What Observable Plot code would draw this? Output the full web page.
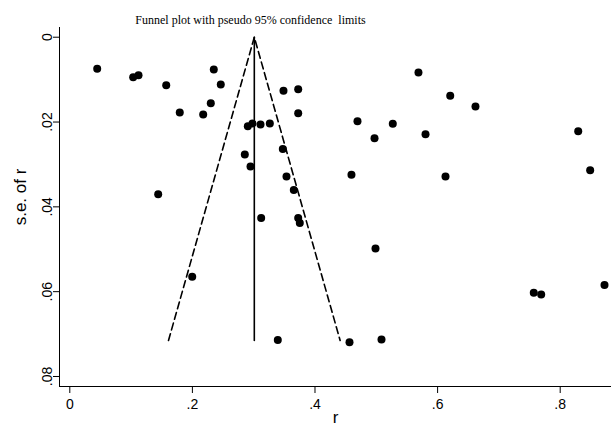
<!DOCTYPE html>
<html>
<head>
<meta charset="utf-8">
<script src="https://cdn.jsdelivr.net/npm/d3@7"></script>
<script src="https://cdn.jsdelivr.net/npm/@observablehq/plot@0.6"></script>
<style>
  html, body { margin: 0; padding: 0; background: #fff; }
  #chart svg { display: block; }
</style>
</head>
<body>
<div id="chart"></div>
<script>
// effect size r of each study
const rValues = [
  0.0447, 0.1034, 0.1121, 0.2349, 0.1573, 0.2463, 0.3486, 0.3726, 0.2300, 0.1794,
  0.2176, 0.3726, 0.2904, 0.2980, 0.3111, 0.3263, 0.2855, 0.3475, 0.2948, 0.3535,
  0.3654, 0.1442, 0.5688, 0.6206, 0.6618, 0.4693, 0.5269, 0.4971, 0.5803, 0.8294,
  0.8489, 0.4595, 0.6129, 0.3122, 0.3726, 0.3752, 0.1997, 0.3393, 0.4987, 0.7569,
  0.7690, 0.8723, 0.4563, 0.5085
];
// standard error of r of each study
const seValues = [
  0.00746, 0.00943, 0.00896, 0.00762, 0.01132, 0.01116, 0.01265, 0.01226, 0.01557, 0.01776,
  0.01823, 0.01792, 0.02099, 0.02035, 0.02059, 0.02035, 0.02767, 0.02633, 0.03050, 0.03285,
  0.03600, 0.03703, 0.00833, 0.01383, 0.01634, 0.01980, 0.02043, 0.02382, 0.02288, 0.02217,
  0.03137, 0.03246, 0.03285, 0.04260, 0.04260, 0.04378, 0.05650, 0.07137, 0.04983, 0.06028,
  0.06068, 0.05840, 0.07193, 0.07130
];
// pooled estimate line and pseudo 95% confidence limits (funnel)
const pooledR = [0.301, 0.301];
const pooledSe = [0, 0.0715];
const funnelR = [0.161, 0.301, 0.441];
const funnelSe = [0.0715, 0, 0.0715];

const xTicks = [0, 0.2, 0.4, 0.6, 0.8];
const yTicks = [0, 0.02, 0.04, 0.06, 0.08];
const titleText = "Funnel plot with pseudo 95% confidence  limits";
const xLabel = "r";
const yLabel = "s.e. of r";

const points = rValues.map((r, i) => ({r, se: seValues[i]}));
const pooled = pooledR.map((r, i) => ({r, se: pooledSe[i]}));
const funnel = funnelR.map((r, i) => ({r, se: funnelSe[i]}));

const fmt = d => d === 0 ? "0" : d3.format(".2~f")(d).replace(/^0\./, ".");

const xDomain = [-0.0168, 0.8837];
const yDomain = [-0.00229, 0.08236];

const chart = Plot.plot({
  width: 611,
  height: 427,
  marginLeft: 59,
  marginRight: 0,
  marginTop: 27,
  marginBottom: 41,
  style: {fontFamily: "'Liberation Sans', Arial, sans-serif", background: "#fff", color: "#000"},
  x: {domain: xDomain},
  y: {domain: yDomain, reverse: true},
  marks: [
    Plot.ruleX([xDomain[0]], {stroke: "#000", strokeWidth: 1}),
    Plot.ruleY([yDomain[1]], {stroke: "#000", strokeWidth: 1}),
    Plot.axisX({ticks: xTicks, tickSize: 7, tickPadding: 6, tickFormat: fmt, fontSize: 14, label: null, stroke: "#000"}),
    Plot.axisY({ticks: yTicks, tickSize: 6, tickFormat: () => "", label: null, stroke: "#000"}),
    Plot.text(yTicks, {y: d => d, frameAnchor: "left", dx: -12, rotate: -90, text: fmt, fontSize: 14, textAnchor: "middle", lineAnchor: "middle", fill: "#000"}),
    Plot.text([yLabel], {frameAnchor: "left", dx: -39, dy: -10, rotate: -90, text: d => d, fontSize: 17, textAnchor: "middle", lineAnchor: "middle", fill: "#000"}),
    Plot.text([xLabel], {frameAnchor: "bottom", dy: 31, text: d => d, fontSize: 17, textAnchor: "middle", lineAnchor: "middle", fill: "#000"}),
    Plot.text([titleText], {frameAnchor: "top", dx: -85, dy: -7, text: d => d, fontSize: 12, fontFamily: "'Liberation Serif', 'Times New Roman', serif", textAnchor: "middle", lineAnchor: "middle", fill: "#000"}),
    Plot.line(funnel, {x: "r", y: "se", stroke: "#000", strokeWidth: 1.6, strokeDasharray: "7,4"}),
    Plot.line(pooled, {x: "r", y: "se", stroke: "#000", strokeWidth: 1.6}),
    Plot.dot(points, {x: "r", y: "se", r: 4, fill: "#000", stroke: "none"})
  ]
});
document.getElementById("chart").appendChild(chart);
</script>
</body>
</html>
